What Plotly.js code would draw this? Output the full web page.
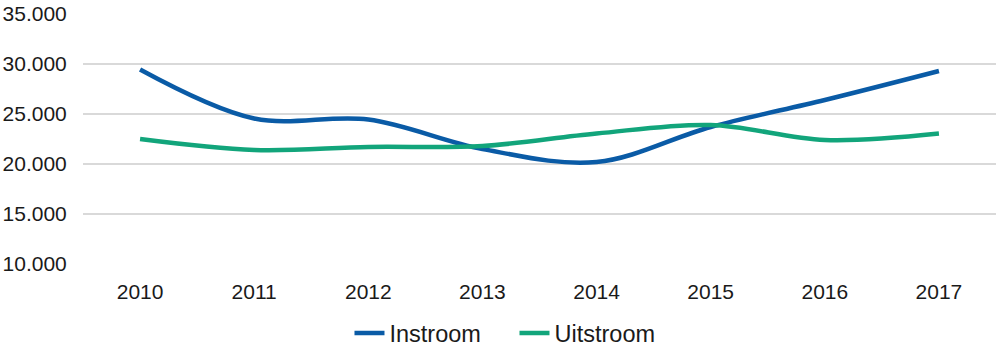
<!DOCTYPE html>
<html>
<head>
<meta charset="utf-8">
<script src="https://cdn.plot.ly/plotly-3.0.1.min.js"></script>
<style>html,body{margin:0;padding:0;background:#fff;}#chart{width:999px;height:347px;}</style>
</head>
<body>
<div id="chart"></div>
<script>
const years = ['2010','2011','2012','2013','2014','2015','2016','2017'];
const instroom = [29450, 24550, 24450, 21500, 20200, 23700, 26400, 29300];
const uitstroom = [22500, 21400, 21700, 21800, 23050, 23900, 22400, 23050];
const yTicks = [10000, 15000, 20000, 25000, 30000, 35000];

const font = {family: 'Liberation Sans, Arial, sans-serif', color: '#1a1a1a'};

const traces = [
  {x: years, y: instroom, name: 'Instroom', type: 'scatter', mode: 'lines',
   line: {color: '#0A5BA6', width: 4.5, shape: 'spline', smoothing: 1}},
  {x: years, y: uitstroom, name: 'Uitstroom', type: 'scatter', mode: 'lines',
   line: {color: '#12A57B', width: 4.5, shape: 'spline', smoothing: 1}}
];

const layout = {
  width: 999, height: 347,
  margin: {l: 83, r: 3, t: 14, b: 83},
  paper_bgcolor: '#fff', plot_bgcolor: '#fff',
  separators: ',.',
  font: Object.assign({size: 21}, font),
  showlegend: true,
  legend: {orientation: 'h', xref: 'container', yref: 'container', x: 0.515, y: 0.04,
           xanchor: 'center', yanchor: 'middle', font: Object.assign({size: 23.5}, font),
           entrywidth: 120, tracegroupgap: 0},
  xaxis: {type: 'category', range: [-0.5, 7.5], showgrid: false, zeroline: false, showline: false,
          ticks: 'outside', ticklen: 9, tickcolor: 'rgba(0,0,0,0)',
          tickfont: Object.assign({size: 21}, font), fixedrange: true},
  yaxis: {range: [10000, 35000], tickvals: yTicks, tickformat: ',d',
          showgrid: true, gridcolor: '#d9d9d9', gridwidth: 1.5, zeroline: false, showline: false,
          ticks: 'outside', ticklen: 11, tickcolor: 'rgba(0,0,0,0)',
          tickfont: Object.assign({size: 21}, font), fixedrange: true}
};

Plotly.newPlot('chart', traces, layout, {displayModeBar: false, staticPlot: true});
</script>
</body>
</html>
